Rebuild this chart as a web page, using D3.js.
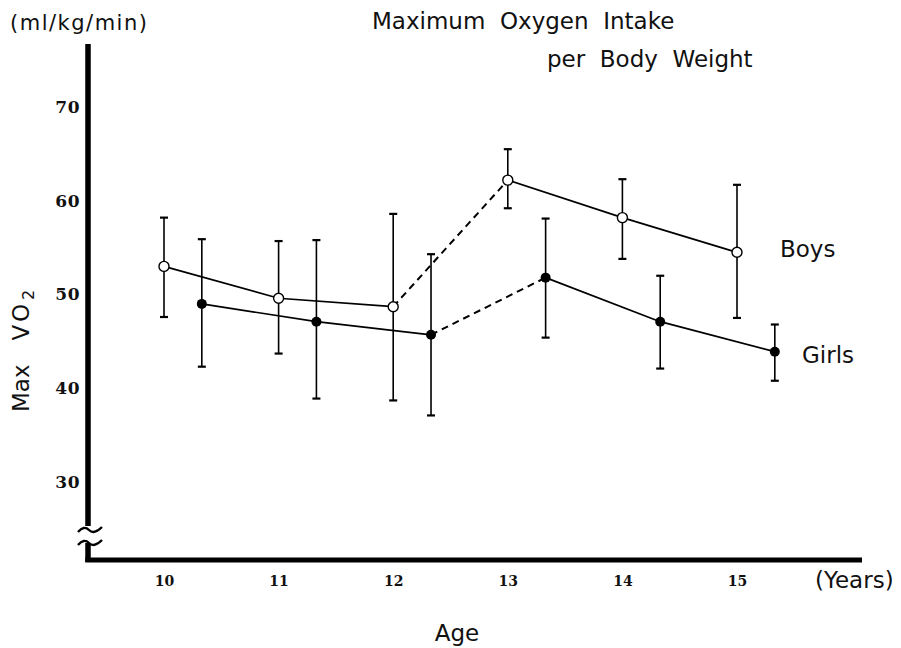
<!DOCTYPE html>
<html>
<head>
<meta charset="utf-8">
<script src="https://cdn.jsdelivr.net/npm/d3@7"></script>
<style>
  body { margin: 0; background: #fff; }
  svg { display: block; }
  .lbl { font-family: "DejaVu Sans", sans-serif; fill: #111; }
  .ytick text { font-family: "DejaVu Serif", serif; font-weight: bold; font-size: 17px; letter-spacing: 0.5px; fill: #111; }
  .xtick text { font-family: "DejaVu Serif", serif; font-weight: bold; font-size: 14px; fill: #111; }
</style>
</head>
<body>
<svg id="chart" width="901" height="648"></svg>
<script>
// ages (boys at the age, girls drawn slightly right of it)
var ages = [10, 11, 12, 13, 14, 15]
var girlsShift = 0.33

// mean and error bar ends (ml/kg/min)
var boysMean = [53.0, 49.6, 48.7, 62.2, 58.2, 54.5]
var boysHigh = [58.2, 55.7, 58.6, 65.5, 62.3, 61.7]
var boysLow  = [47.6, 43.7, 38.7, 59.2, 53.8, 47.5]

var girlsMean = [49.0, 47.1, 45.7, 51.8, 47.1, 43.9]
var girlsHigh = [55.9, 55.8, 54.3, 58.1, 52.0, 46.8]
var girlsLow  = [42.3, 38.9, 37.1, 45.4, 42.1, 40.8]

var yTicks = [30, 40, 50, 60, 70]

var svg = d3.select("#chart")

// scales
var x = d3.scaleLinear().domain([10, 15]).range([164, 737])
var y = d3.scaleLinear().domain([30, 70]).range([482, 107])

var axisX = 88, axisY = 560

function series(mean, high, low, shift) {
    return ages.map(function(a, i) {
        return { x: a + shift, m: mean[i], hi: high[i], lo: low[i] }
    })
}
var boys = series(boysMean, boysHigh, boysLow, 0)
var girls = series(girlsMean, girlsHigh, girlsLow, girlsShift)

// y tick labels
svg.append("g")
    .attr("class", "ytick")
    .attr("transform", "translate(" + axisX + ",0)")
    .call(d3.axisLeft(y).tickValues(yTicks).tickSize(0).tickPadding(8))
    .call(function(g) { g.select(".domain").remove() })

// x tick labels
svg.append("g")
    .attr("class", "xtick")
    .attr("transform", "translate(0," + axisY + ")")
    .call(d3.axisBottom(x).tickValues(ages).tickSize(0).tickPadding(16).tickFormat(d3.format("d")))
    .call(function(g) { g.select(".domain").remove() })

// thick axis lines with break on y axis
var axes = svg.append("g").attr("stroke", "#000").attr("fill", "none")
axes.append("line").attr("x1", axisX).attr("x2", axisX).attr("y1", 44).attr("y2", 526).attr("stroke-width", 5.5)
axes.append("line").attr("x1", axisX).attr("x2", axisX).attr("y1", 543).attr("y2", axisY + 2).attr("stroke-width", 5.5)
axes.append("line").attr("x1", axisX - 2.7).attr("x2", 862).attr("y1", axisY).attr("y2", axisY).attr("stroke-width", 5)
;[530, 543].forEach(function(yy) {
    axes.append("path")
        .attr("d", "M" + (axisX - 10) + "," + (yy + 2) + " q6,-7 11,-2 t13,-3")
        .attr("stroke-width", 2.4)
})

// error bars
function drawErrors(data) {
    var g = svg.append("g").attr("stroke", "#000").attr("stroke-width", 1.6)
    data.forEach(function(d) {
        var cx = x(d.x)
        g.append("line").attr("x1", cx).attr("x2", cx).attr("y1", y(d.hi)).attr("y2", y(d.lo))
        g.append("line").attr("x1", cx - 4).attr("x2", cx + 4).attr("y1", y(d.hi)).attr("y2", y(d.hi)).attr("stroke-width", 2.2)
        g.append("line").attr("x1", cx - 4).attr("x2", cx + 4).attr("y1", y(d.lo)).attr("y2", y(d.lo)).attr("stroke-width", 2.2)
    })
}
drawErrors(boys)
drawErrors(girls)

// connecting lines, dashed between 12 and 13
var line = d3.line().x(function(d) { return x(d.x) }).y(function(d) { return y(d.m) })
function drawLines(data) {
    var g = svg.append("g").attr("fill", "none").attr("stroke", "#000").attr("stroke-width", 1.7)
    g.append("path").attr("d", line(data.slice(0, 3)))
    g.append("path").attr("d", line(data.slice(2, 4))).attr("stroke-dasharray", "7,5").attr("stroke-width", 2)
    g.append("path").attr("d", line(data.slice(3)))
}
drawLines(boys)
drawLines(girls)

// markers
svg.append("g").selectAll("circle").data(boys).join("circle")
    .attr("cx", function(d) { return x(d.x) })
    .attr("cy", function(d) { return y(d.m) })
    .attr("r", 5)
    .attr("fill", "#fff").attr("stroke", "#000").attr("stroke-width", 1.4)

svg.append("g").selectAll("circle").data(girls).join("circle")
    .attr("cx", function(d) { return x(d.x) })
    .attr("cy", function(d) { return y(d.m) })
    .attr("r", 5)
    .attr("fill", "#000")

// texts
svg.append("text").attr("class", "lbl").attr("x", 10).attr("y", 30)
    .style("font-size", "21px").style("letter-spacing", "1.5px").text("(ml/kg/min)")
svg.append("text").attr("class", "lbl").attr("x", 372).attr("y", 29)
    .style("font-size", "23px").style("white-space", "pre").text("Maximum  Oxygen  Intake")
svg.append("text").attr("class", "lbl").attr("x", 547).attr("y", 67)
    .style("font-size", "23px").style("white-space", "pre").text("per  Body  Weight")
svg.append("text").attr("class", "lbl").attr("x", 780).attr("y", 257)
    .style("font-size", "23px").text("Boys")
svg.append("text").attr("class", "lbl").attr("x", 802).attr("y", 363)
    .style("font-size", "23px").text("Girls")
svg.append("text").attr("class", "lbl").attr("x", 815).attr("y", 588)
    .style("font-size", "23px").text("(Years)")
svg.append("text").attr("class", "lbl").attr("x", 457).attr("y", 641)
    .attr("text-anchor", "middle").style("font-size", "23px").text("Age")

var yl = svg.append("text").attr("class", "lbl")
    .attr("transform", "translate(29,412) rotate(-90)")
    .style("font-size", "23px")
yl.append("tspan").text("Max")
yl.append("tspan").attr("dx", 24).style("letter-spacing", "3px").text("VO")
yl.append("tspan").attr("dy", 5).attr("dx", 1).style("font-size", "16px").text("2")
</script>
</body>
</html>
